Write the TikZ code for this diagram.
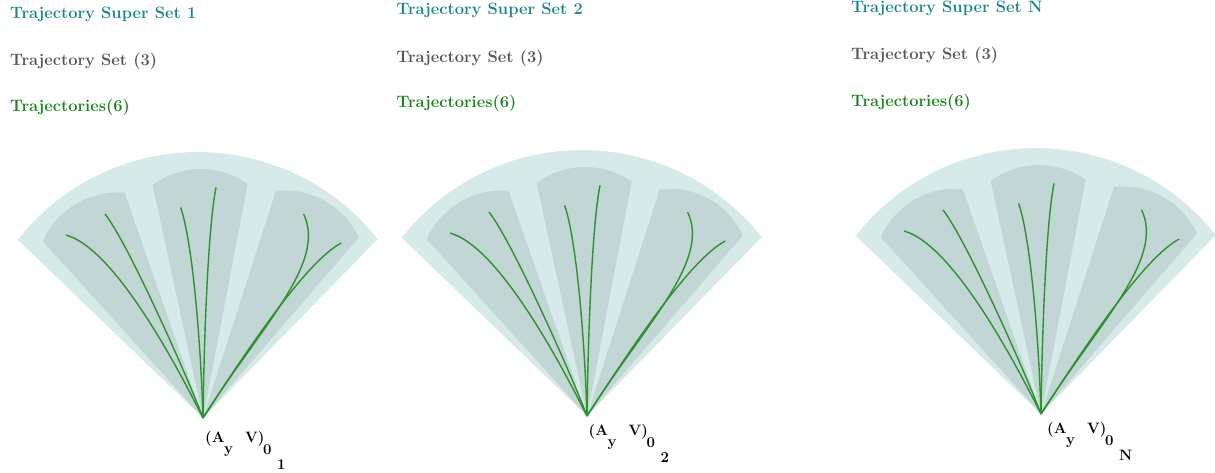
\documentclass[tikz,border=0pt]{standalone}
\definecolor{outerfill}{RGB}{214,234,233}
\definecolor{innerfill}{RGB}{194,215,213}
\definecolor{trajgreen}{RGB}{44,146,44}
\definecolor{titleteal}{RGB}{24,136,136}
\definecolor{titlegray}{RGB}{85,85,85}
\definecolor{titlegreen}{RGB}{22,134,22}
\tikzset{
  outerzone/.style={fill=outerfill},
  innerzone/.style={fill=innerfill},
  traj/.style={draw=trajgreen, line width=1.4pt},
  ttl/.style={anchor=base west, inner sep=0pt, font=\fontsize{16.5}{19}\selectfont\bfseries},
  lbl/.style={anchor=base west, inner sep=0pt, font=\fontsize{15}{18}\selectfont\bfseries},
}
% #1 apex x, #2 apex y (pixels from top), #3 name suffix
\newcommand{\trajfan}[3]{%
  \begin{scope}[shift={(#1,-#2)}]
    \coordinate (apex#3) at (0,0);
    \fill[outerzone] (apex#3) -- (174.7,178.9) arc[start angle=38.3, end angle=141.9, radius=229] -- cycle;
    \foreach \rr in {30.7,0.7,-29.3}{%
      \begin{scope}[rotate=\rr]
        \fill[innerzone] (0,0) -- (47.6,233.7) arc[start angle=54.4, end angle=125.6, radius=81.7] -- cycle;
      \end{scope}}
    \coordinate (e1#3) at (-137,183);
    \coordinate (e2#3) at (-98,204);
    \coordinate (e3#3) at (-22.4,210.6);
    \coordinate (e4#3) at (13,230.6);
    \coordinate (e5#3) at (100.6,204);
    \coordinate (e6#3) at (138.3,175);
    \draw[traj] (apex#3) .. controls (-30,60) and (-90,170) .. (e1#3);
    \draw[traj] (apex#3) .. controls (-15,40) and (-75,175) .. (e2#3);
    \draw[traj] (apex#3) .. controls (-2,70) and (-10,175) .. (e3#3);
    \draw[traj] (apex#3) .. controls (1,80) and (5,190) .. (e4#3);
    \draw[traj] (apex#3) .. controls (58,92) and (124,155) .. (e5#3);
    \draw[traj] (apex#3) .. controls (44,68) and (103.5,157) .. (e6#3);
  \end{scope}}
% #1 x of "(", #2 baseline (pixels from top), #3 suffix, #4 last subscript
\newcommand{\fanlabel}[4]{%
  \node[lbl] (la#3) at (#1,-#2) {(A};
  \node[lbl] (ly#3) at (#1+19,-#2-11) {y};
  \node[lbl] (lv#3) at (#1+40,-#2) {V)};
  \node[lbl] (lz#3) at (#1+58,-#2-12) {0};
  \node[lbl] (ls#3) at (#1+72,-#2-27) {#4};}
% #1 x, #2..#4 baselines, #5 suffix, #6 set id
\newcommand{\fantitles}[6]{%
  \node[ttl, text=titleteal] (sup#5) at (#1,-#2) {Trajectory Super Set #6};
  \node[ttl, text=titlegray] (set#5) at (#1,-#3) {Trajectory Set (3)};
  \node[ttl, text=titlegreen] (tr#5) at (#1,-#4) {Trajectories(6)};}
\begin{document}
\begin{tikzpicture}[x=1pt,y=1pt]
  \useasboundingbox (0,-472) rectangle (1215,0);
  \fantitles{10}{18}{65}{111}{a}{1}
  \fantitles{396.5}{14}{62}{107}{b}{2}
  \fantitles{851}{12}{59}{106}{c}{N}
  \trajfan{203}{418}{a}
  \trajfan{587}{416}{b}
  \trajfan{1041}{414}{c}
  \fanlabel{205}{442}{a}{1}
  \fanlabel{588.5}{435}{b}{2}
  \fanlabel{1047}{433}{c}{N}
\end{tikzpicture}
\end{document}
